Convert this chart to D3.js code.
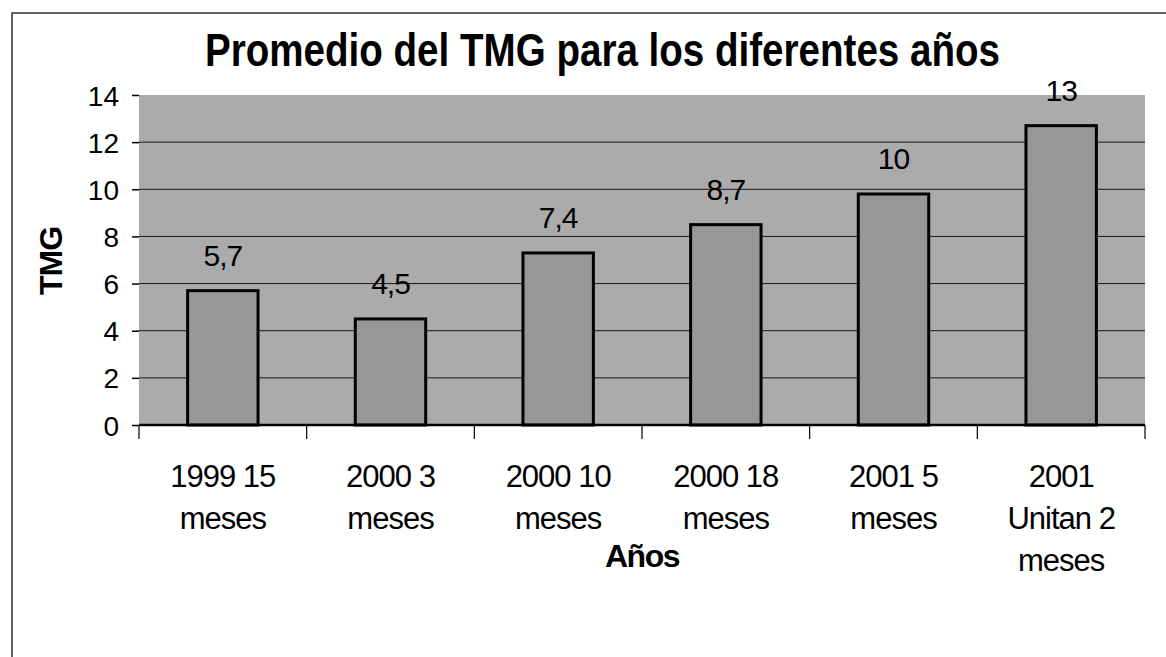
<!DOCTYPE html>
<html>
<head>
<meta charset="utf-8">
<script src="https://cdn.jsdelivr.net/npm/d3@7"></script>
<style>
  body { margin: 0; background: #fff; }
  svg { display: block; font-family: "Liberation Sans", Arial, sans-serif; }
</style>
</head>
<body>
<div id="chart"></div>
<script>
//the data
var categories = [
  ["1999 15", "meses"],
  ["2000 3", "meses"],
  ["2000 10", "meses"],
  ["2000 18", "meses"],
  ["2001 5", "meses"],
  ["2001", "Unitan 2", "meses"]
];
// bar heights
var values = [5.7, 4.5, 7.3, 8.5, 9.8, 12.7];
// data labels as printed above the bars
var dataLabels = ["5,7", "4,5", "7,4", "8,7", "10", "13"];
var yTicks = [0, 2, 4, 6, 8, 10, 12, 14];

var width = 1166, height = 657;
var plot = { left: 139, right: 1145, top: 95, bottom: 425 };

var svg = d3.select("#chart").append("svg")
  .attr("width", width)
  .attr("height", height);

// outer frame (top and left edges only are visible in the scan)
svg.append("path")
  .attr("d", "M12," + height + " L12,13 L" + width + ",13")
  .attr("fill", "none")
  .attr("stroke", "#333")
  .attr("stroke-width", 1.5);

var keys = categories.map(function (d, i) { return "c" + i; });

var x = d3.scaleBand()
  .domain(keys)
  .range([plot.left, plot.right])
  .paddingInner(0.58)
  .paddingOuter(0.29);

var y = d3.scaleLinear()
  .domain([0, 14])
  .range([plot.bottom, plot.top]);

//plot area
svg.append("rect")
  .attr("x", plot.left)
  .attr("y", plot.top)
  .attr("width", plot.right - plot.left)
  .attr("height", plot.bottom - plot.top)
  .attr("fill", "#ababab");

//gridlines
svg.append("g")
  .selectAll("line")
  .data(yTicks.filter(function (d) { return d > 0 && d < 14; }))
  .enter().append("line")
  .attr("x1", plot.left)
  .attr("x2", plot.right)
  .attr("y1", function (d) { return y(d); })
  .attr("y2", function (d) { return y(d); })
  .attr("stroke", "#1a1a1a")
  .attr("stroke-width", 1);

//bars
svg.append("g")
  .selectAll("rect")
  .data(values)
  .enter().append("rect")
  .attr("x", function (d, i) { return x(keys[i]); })
  .attr("y", function (d) { return y(d); })
  .attr("width", x.bandwidth())
  .attr("height", function (d) { return y(0) - y(d); })
  .attr("fill", "#979797")
  .attr("stroke", "#000")
  .attr("stroke-width", 3);

//data labels
svg.append("g")
  .selectAll("text")
  .data(values)
  .enter().append("text")
  .attr("x", function (d, i) { return x(keys[i]) + x.bandwidth() / 2; })
  .attr("y", function (d) { return y(d) - 25; })
  .attr("text-anchor", "middle")
  .attr("font-size", 30)
  .attr("letter-spacing", -1)
  .attr("fill", "#000")
  .text(function (d, i) { return dataLabels[i]; });

//y axis
var yAxis = d3.axisLeft(y)
  .tickValues(yTicks)
  .tickSize(7)
  .tickPadding(13);

var gy = svg.append("g")
  .attr("transform", "translate(" + plot.left + ",0)")
  .call(yAxis);
gy.select(".domain").remove();
gy.selectAll(".tick line").attr("stroke", "#000").attr("stroke-width", 1.5);
gy.selectAll(".tick text")
  .attr("font-size", 28)
  .attr("font-family", "Liberation Sans, Arial, sans-serif")
  .attr("fill", "#000")
  .attr("dy", "0.36em");

//x axis: baseline and ticks between categories
svg.append("line")
  .attr("x1", plot.left)
  .attr("x2", plot.right)
  .attr("y1", plot.bottom)
  .attr("y2", plot.bottom)
  .attr("stroke", "#000")
  .attr("stroke-width", 2.5);

var step = x.step();
var bounds = d3.range(keys.length + 1).map(function (i) { return plot.left + i * step; });
svg.append("g")
  .selectAll("line")
  .data(bounds)
  .enter().append("line")
  .attr("x1", function (d) { return d; })
  .attr("x2", function (d) { return d; })
  .attr("y1", plot.bottom)
  .attr("y2", plot.bottom + 14)
  .attr("stroke", "#000")
  .attr("stroke-width", 1.2);

//category labels
var cat = svg.append("g")
  .selectAll("text")
  .data(categories)
  .enter().append("text")
  .attr("x", function (d, i) { return x(keys[i]) + x.bandwidth() / 2; })
  .attr("y", 487)
  .attr("text-anchor", "middle")
  .attr("font-size", 31)
  .attr("letter-spacing", -1)
  .attr("fill", "#000");

cat.selectAll("tspan")
  .data(function (d) { return d; })
  .enter().append("tspan")
  .attr("x", function () { return d3.select(this.parentNode).attr("x"); })
  .attr("dy", function (d, i) { return i === 0 ? 0 : 42; })
  .text(function (d) { return d; });

//axis titles
svg.append("text")
  .attr("x", (plot.left + plot.right) / 2)
  .attr("y", 567)
  .attr("text-anchor", "middle")
  .attr("font-size", 32)
  .attr("font-weight", "bold")
  .attr("letter-spacing", -1.5)
  .text("Años");

svg.append("text")
  .attr("transform", "translate(62,261) rotate(-90)")
  .attr("text-anchor", "middle")
  .attr("font-size", 32)
  .attr("font-weight", "bold")
  .attr("letter-spacing", -1)
  .text("TMG");

//title
svg.append("text")
  .attr("x", 205)
  .attr("y", 66)
  .attr("font-size", 46)
  .attr("font-weight", "bold")
  .attr("textLength", 795)
  .attr("lengthAdjust", "spacingAndGlyphs")
  .text("Promedio del TMG para los diferentes años");
</script>
</body>
</html>
